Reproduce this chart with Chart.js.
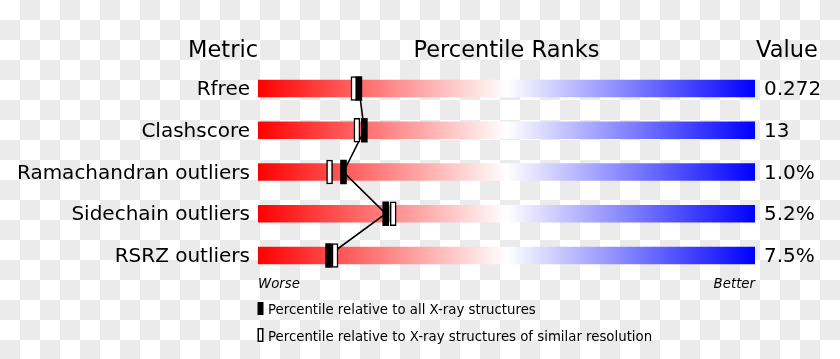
<!DOCTYPE html>
<html>
<head>
<meta charset="utf-8">
<script src="https://cdn.jsdelivr.net/npm/chart.js@4.4.1/dist/chart.umd.min.js"></script>
<style>
    html, body {
        margin: 0;
        padding: 0;
        width: 840px;
        height: 359px;
        overflow: hidden;
        /* transparent-background checkerboard, 20px squares */
        background: repeating-conic-gradient(#ebebeb 0 25%, #ffffff 0 50%) 0 0 / 40px 40px;
    }
    #wrap { position: relative; width: 840px; height: 359px; }
</style>
</head>
<body>
<div id="wrap"><canvas id="grafico"></canvas></div>
<script>
// ========================================================================
// DADOS
// ========================================================================
const metrics = ['Rfree', 'Clashscore', 'Ramachandran outliers', 'Sidechain outliers', 'RSRZ outliers'];
const metricValues = ['0.272', '13', '1.0%', '5.2%', '7.5%'];
const pctAll = [20.3, 21.4, 17.2, 25.7, 14.2];       // relative to all X-ray structures
const pctSimilar = [19.3, 19.9, 14.4, 27.2, 15.5];   // relative to similar resolution
const fullRange = [0, 100];

const FONT = "'DejaVu Sans', sans-serif";
const MARK_HALF = 0.6; // meia largura do marcador, em unidades de percentil

document.addEventListener('DOMContentLoaded', () => {

    // gradiente vermelho -> branco -> azul, recriado quando a área muda
    function sliderGradient(context) {
        const chart = context.chart;
        const area = chart.chartArea;
        if (!area) return '#ffffff';
        const g = chart.ctx.createLinearGradient(area.left, 0, area.right, 0);
        g.addColorStop(0, '#ff0000');
        g.addColorStop(0.5, '#ffffff');
        g.addColorStop(1, '#0000ff');
        return g;
    }

    // textos extras: cabeçalhos, Worse/Better e a legenda de baixo
    const extraText = {
        id: 'extraText',
        afterDraw(chart) {
            const ctx = chart.ctx;
            const area = chart.chartArea;
            ctx.save();
            ctx.fillStyle = '#000';
            ctx.textBaseline = 'alphabetic';

            ctx.font = `22.5px ${FONT}`;
            ctx.textAlign = 'right';
            ctx.fillText('Metric', area.left, 57);
            ctx.textAlign = 'center';
            ctx.fillText('Percentile Ranks', (area.left + area.right) / 2, 57);
            ctx.textAlign = 'left';
            ctx.fillText('Value', area.right + 1, 57);

            ctx.font = `italic 13.3px ${FONT}`;
            ctx.textAlign = 'left';
            ctx.fillText('Worse', area.left, 288);
            ctx.textAlign = 'right';
            ctx.fillText('Better', area.right, 288);

            // legenda
            ctx.fillRect(area.left - 0.5, 302, 6, 13);
            ctx.fillStyle = '#fff';
            ctx.fillRect(area.left - 0.5, 328, 6, 14);
            ctx.strokeStyle = '#000';
            ctx.lineWidth = 1.5;
            ctx.strokeRect(area.left + 0.25, 328.75, 4.5, 12.5);

            ctx.fillStyle = '#000';
            ctx.font = `13.3px ${FONT}`;
            ctx.textAlign = 'left';
            ctx.fillText('Percentile relative to all X-ray structures', area.left + 10, 314);
            ctx.fillText('Percentile relative to X-ray structures of similar resolution', area.left + 10, 341);
            ctx.restore();
        }
    };

    const ctx = document.getElementById('grafico').getContext('2d');
    new Chart(ctx, {
        type: 'bar',
        data: {
            labels: metrics,
            datasets: [
                {
                    type: 'line',
                    indexAxis: 'y',
                    data: pctAll,
                    borderColor: '#000',
                    borderWidth: 1.6,
                    pointRadius: 0,
                    order: 5
                },
                {
                    data: pctSimilar.map(p => [p - MARK_HALF, p + MARK_HALF]),
                    backgroundColor: '#ffffff',
                    borderColor: '#000',
                    borderWidth: 1.5,
                    borderSkipped: false,
                    barThickness: 24,
                    grouped: false,
                    order: 2
                },
                {
                    data: pctAll.map(p => [p - MARK_HALF, p + MARK_HALF]),
                    backgroundColor: '#000',
                    borderWidth: 0,
                    barThickness: 24,
                    grouped: false,
                    order: 1
                },
                {
                    data: metrics.map(() => fullRange),
                    backgroundColor: sliderGradient,
                    borderWidth: 0,
                    barThickness: 17,
                    grouped: false,
                    order: 10
                }
            ]
        },
        options: {
            indexAxis: 'y',
            responsive: true,
            maintainAspectRatio: false,
            animation: false,
            layout: { padding: { top: 67.6, bottom: 82.6, left: 0, right: 0 } },
            plugins: {
                legend: { display: false },
                tooltip: { enabled: false }
            },
            scales: {
                x: { min: 0, max: 100, display: false },
                y: {
                    position: 'left',
                    grid: { display: false },
                    border: { display: false },
                    ticks: { padding: 0, labelOffset: 1.5, color: '#000', font: { family: FONT, size: 20 } },
                    afterFit: s => { s.width = 258; }
                },
                y2: {
                    type: 'category',
                    position: 'right',
                    labels: metricValues,
                    grid: { display: false },
                    border: { display: false },
                    ticks: { padding: 1, labelOffset: 1.5, color: '#000', font: { family: FONT, size: 20 } },
                    afterFit: s => { s.width = 85; }
                }
            }
        },
        plugins: [extraText]
    });
});
</script>
</body>
</html>
